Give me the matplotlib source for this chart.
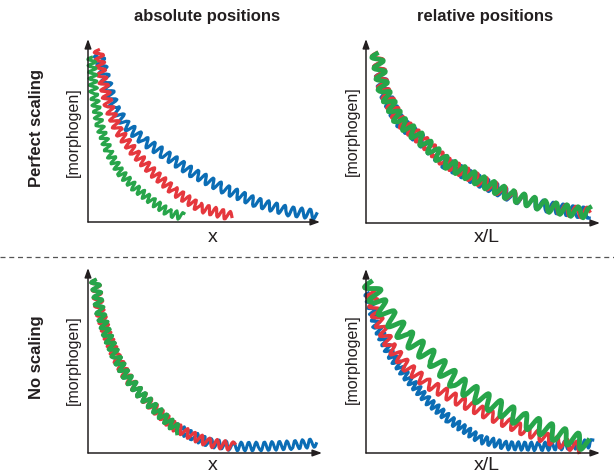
import matplotlib
matplotlib.use("Agg")
import matplotlib.pyplot as plt
from matplotlib.lines import Line2D

plt.rcParams['font.family'] = ['Liberation Sans', 'DejaVu Sans']

W, H = 614, 476

blue = '#0b6db5'
red = '#e5373d'
green = '#27a54a'
ink = '#231f20'

# values, x and y as fraction of each axis length
# perfect scaling / absolute positions
ps_abs_blue_x = [0.045, 0.08, 0.115, 0.16, 0.24, 0.33, 0.45, 0.58, 0.72, 0.86, 0.985]
ps_abs_blue_y = [0.92, 0.76, 0.62, 0.535, 0.445, 0.37, 0.27, 0.185, 0.11, 0.06, 0.04]
ps_abs_red_x = [0.045, 0.06, 0.09, 0.13, 0.20, 0.28, 0.37, 0.48, 0.62]
ps_abs_red_y = [0.94, 0.80, 0.63, 0.50, 0.38, 0.27, 0.17, 0.08, 0.03]
ps_abs_green_x = [0.015, 0.025, 0.05, 0.09, 0.14, 0.20, 0.28, 0.35, 0.41]
ps_abs_green_y = [0.90, 0.70, 0.53, 0.38, 0.27, 0.19, 0.11, 0.05, 0.03]

# perfect scaling / relative positions (all three collapse)
ps_rel_x = [0.045, 0.075, 0.14, 0.24, 0.34, 0.48, 0.62, 0.77, 0.90, 0.955]
ps_rel_blue_y = [0.92, 0.72, 0.555, 0.445, 0.325, 0.23, 0.145, 0.09, 0.06, 0.055]
ps_rel_red_y = [0.925, 0.725, 0.56, 0.45, 0.33, 0.235, 0.15, 0.09, 0.06, 0.055]
ps_rel_green_y = [0.92, 0.72, 0.56, 0.45, 0.33, 0.235, 0.15, 0.09, 0.06, 0.055]

# no scaling / absolute positions (all three collapse, different lengths)
ns_abs_blue_x = [0.03, 0.05, 0.08, 0.12, 0.165, 0.22, 0.29, 0.365, 0.45, 0.52, 0.62, 0.735, 0.875, 0.975]
ns_abs_blue_y = [0.935, 0.77, 0.645, 0.52, 0.415, 0.325, 0.235, 0.145, 0.09, 0.055, 0.035, 0.035, 0.043, 0.055]
ns_abs_red_x = [0.03, 0.05, 0.08, 0.12, 0.165, 0.22, 0.29, 0.365, 0.45, 0.52, 0.625]
ns_abs_red_y = [0.935, 0.77, 0.645, 0.52, 0.415, 0.325, 0.235, 0.145, 0.09, 0.055, 0.035]
ns_abs_green_x = [0.03, 0.05, 0.08, 0.12, 0.165, 0.22, 0.29, 0.365, 0.39]
ns_abs_green_y = [0.935, 0.77, 0.645, 0.52, 0.415, 0.325, 0.235, 0.145, 0.125]

# no scaling / relative positions
ns_rel_blue_x = [0.01, 0.046, 0.103, 0.174, 0.259, 0.359, 0.487, 0.60, 0.745, 0.885, 0.97]
ns_rel_blue_y = [0.87, 0.69, 0.54, 0.415, 0.29, 0.18, 0.075, 0.04, 0.035, 0.043, 0.052]
ns_rel_red_x = [0.01, 0.046, 0.103, 0.174, 0.259, 0.388, 0.53, 0.672, 0.815, 0.915]
ns_rel_red_y = [0.92, 0.74, 0.58, 0.47, 0.38, 0.29, 0.205, 0.125, 0.06, 0.03]
ns_rel_green_x = [0.02, 0.045, 0.10, 0.17, 0.29, 0.39, 0.53, 0.67, 0.815, 0.945]
ns_rel_green_y = [0.93, 0.83, 0.74, 0.635, 0.505, 0.38, 0.27, 0.18, 0.105, 0.05]

fig = plt.figure(figsize=(W / 100, H / 100), dpi=100)


def add_panel(x0, y0, w, h):
    # x0, y0 = origin in pixels, w, h = arrow lengths in pixels
    ax = fig.add_axes([x0 / W, 1 - y0 / H, w / W, h / H])
    ax.set_xlim(0, 1)
    ax.set_ylim(0, 1)
    ax.axis('off')
    arrow = dict(arrowstyle='-|>,head_length=0.55,head_width=0.2', color=ink,
                 lw=1.1, shrinkA=0, shrinkB=0)
    ax.annotate('', xy=(1, 0), xytext=(0, 0), xycoords='axes fraction', arrowprops=arrow)
    ax.annotate('', xy=(0, 1), xytext=(0, 0), xycoords='axes fraction', arrowprops=arrow)
    return ax


def zigzag(ax, x, y, color, lw, amp, wave):
    line, = ax.plot(x, y, color=color, lw=lw, clip_on=False)
    line.set_sketch_params(amp, wave, 1)
    return line


ax1 = add_panel(88, 222, 232, 183)
zigzag(ax1, ps_abs_blue_x, ps_abs_blue_y, blue, 2.3, 4.8, 8.5)
zigzag(ax1, ps_abs_red_x, ps_abs_red_y, red, 2.3, 4.5, 7.5)
zigzag(ax1, ps_abs_green_x, ps_abs_green_y, green, 2.2, 4.0, 6.5)

ax2 = add_panel(366, 223, 234, 184)
zigzag(ax2, ps_rel_x, ps_rel_blue_y, blue, 2.4, 5.5, 10)
zigzag(ax2, ps_rel_x, ps_rel_red_y, red, 2.4, 5.5, 10.5)
zigzag(ax2, ps_rel_x, ps_rel_green_y, green, 3.3, 5.5, 11)

ax3 = add_panel(88, 453, 234, 185)
zigzag(ax3, ns_abs_blue_x, ns_abs_blue_y, blue, 2.2, 4.4, 7.5)
zigzag(ax3, ns_abs_red_x, ns_abs_red_y, red, 2.3, 4.4, 8)
zigzag(ax3, ns_abs_green_x, ns_abs_green_y, green, 2.7, 4.4, 7.5)

ax4 = add_panel(366, 453, 234, 184)
zigzag(ax4, ns_rel_blue_x, ns_rel_blue_y, blue, 2.3, 4.2, 6.5)
zigzag(ax4, ns_rel_red_x, ns_rel_red_y, red, 2.5, 5.2, 10)
zigzag(ax4, ns_rel_green_x, ns_rel_green_y, green, 3.5, 7.5, 14)


def label(x, y, s, **kw):
    fig.text(x / W, 1 - y / H, s, ha='center', va='center', color=ink, **kw)


label(207, 17, 'absolute positions', fontsize=12, fontweight='bold')
label(485, 17, 'relative positions', fontsize=12, fontweight='bold')
label(37, 128, 'Perfect scaling', fontsize=12, fontweight='bold', rotation=90)
label(37, 357, 'No scaling', fontsize=12, fontweight='bold', rotation=90)

for mx, my in [(73, 132), (352, 131), (73, 360), (352, 359)]:
    label(mx, my, '[morphogen]', fontsize=11.5, rotation=90)

label(213, 237, 'x', fontsize=14)
label(213, 466, 'x', fontsize=14)
label(487, 237, 'x/L', fontsize=14)
label(487, 465, 'x/L', fontsize=14)

fig.add_artist(Line2D([0, 1], [1 - 257 / H, 1 - 257 / H], transform=fig.transFigure,
                      color='#555555', lw=0.9, ls=(0, (4, 3))))

fig.savefig('out.png', dpi=100)
